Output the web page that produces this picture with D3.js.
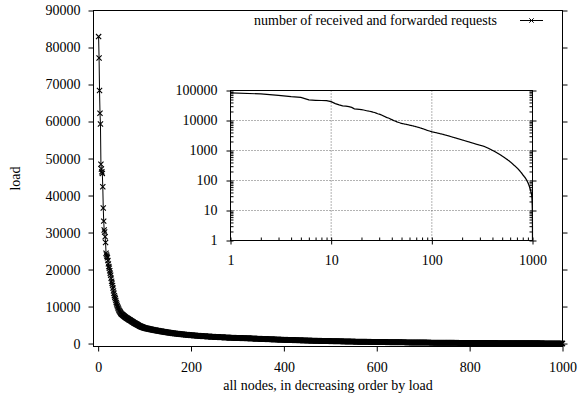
<!DOCTYPE html>
<html>
<head>
<meta charset="utf-8">
<script src="https://cdn.jsdelivr.net/npm/d3@7"></script>
<style>
  html, body { margin: 0; padding: 0; background: #fff; }
  svg { display: block; font-family: "Liberation Serif", "Times New Roman", serif; }
</style>
</head>
<body>
<svg id="chart" width="579" height="402"></svg>
<script>
// Labels
const seriesName = "number of received and forwarded requests";
const xTitle = "all nodes, in decreasing order by load";
const yTitle = "load";

// Tick values
const xTicks = [0, 200, 400, 600, 800, 1000];
const yTicks = [0, 10000, 20000, 30000, 40000, 50000, 60000, 70000, 80000, 90000];
const insetXTicks = [1, 10, 100, 1000];
const insetYTicks = [1, 10, 100, 1000, 10000, 100000];

// Load of each node, sorted in decreasing order (node rank = position + 1)
const load = [
  82950, 77180, 68370, 62240, 59310, 48460, 47150, 46420, 45980, 42390,
  36620, 33080, 30690, 30120, 28870, 27310, 24420, 23960, 23560, 23180,
  22410, 21530, 20790, 20340, 19680, 19020, 18470, 17640, 16810, 16290,
  15720, 14980, 14230, 13610, 12940, 12480, 12090, 11630, 11120, 10710,
  10290, 9920, 9610, 9330, 9010, 8790, 8610, 8380, 8190, 8010,
  7905, 7812, 7698, 7603, 7488, 7401, 7312, 7197, 7108, 7002,
  6921, 6838, 6762, 6679, 6601, 6518, 6443, 6358, 6281, 6199,
  6122, 6037, 5961, 5878, 5802, 5719, 5641, 5558, 5482, 5398,
  5331, 5258, 5192, 5119, 5051, 4978, 4912, 4839, 4771, 4698,
  4652, 4598, 4551, 4499, 4452, 4398, 4351, 4298, 4252, 4199,
  4171, 4146, 4117, 4091, 4062, 4036, 4007, 3981, 3952, 3926,
  3897, 3871, 3842, 3816, 3787, 3761, 3732, 3706, 3677, 3651,
  3627, 3606, 3582, 3561, 3537, 3516, 3492, 3471, 3447, 3426,
  3402, 3381, 3357, 3336, 3312, 3291, 3267, 3246, 3222, 3201,
  3178, 3161, 3137, 3119, 3102, 3078, 3061, 3043, 3018, 3001,
  2979, 2962, 2938, 2921, 2899, 2883, 2861, 2839, 2822, 2801,
  2786, 2770, 2756, 2741, 2724, 2711, 2695, 2681, 2664, 2650,
  2636, 2619, 2606, 2590, 2575, 2561, 2544, 2530, 2515, 2500,
  2488, 2474, 2463, 2450, 2437, 2425, 2412, 2400, 2387, 2374,
  2363, 2350, 2337, 2326, 2312, 2300, 2288, 2275, 2262, 2250,
  2240, 2231, 2220, 2210, 2199, 2190, 2181, 2170, 2160, 2151,
  2140, 2130, 2121, 2110, 2100, 2090, 2081, 2070, 2060, 2051,
  2040, 2030, 2019, 2010, 2000, 1993, 1984, 1975, 1968, 1961,
  1952, 1943, 1936, 1929, 1920, 1911, 1904, 1897, 1888, 1879,
  1872, 1865, 1856, 1847, 1840, 1833, 1824, 1815, 1808, 1800,
  1793, 1786, 1780, 1773, 1766, 1759, 1752, 1746, 1739, 1732,
  1725, 1718, 1712, 1705, 1698, 1691, 1684, 1678, 1671, 1664,
  1657, 1650, 1644, 1637, 1630, 1625, 1620, 1614, 1609, 1604,
  1599, 1594, 1589, 1583, 1578, 1573, 1568, 1563, 1557, 1552,
  1547, 1542, 1537, 1531, 1526, 1521, 1516, 1511, 1505, 1500,
  1497, 1492, 1487, 1484, 1481, 1476, 1471, 1468, 1465, 1460,
  1455, 1452, 1449, 1444, 1439, 1436, 1433, 1428, 1423, 1420,
  1417, 1412, 1407, 1404, 1400, 1394, 1389, 1383, 1378, 1372,
  1366, 1361, 1355, 1350, 1344, 1338, 1333, 1327, 1322, 1316,
  1310, 1305, 1299, 1294, 1288, 1282, 1277, 1271, 1266, 1260,
  1255, 1250, 1244, 1239, 1234, 1229, 1224, 1218, 1213, 1208,
  1203, 1198, 1192, 1187, 1182, 1177, 1172, 1166, 1161, 1156,
  1151, 1146, 1140, 1135, 1130, 1125, 1120, 1116, 1111, 1106,
  1101, 1096, 1092, 1087, 1082, 1077, 1072, 1068, 1063, 1058,
  1053, 1048, 1044, 1039, 1034, 1029, 1024, 1020, 1015, 1010,
  1006, 1001, 998, 994, 989, 986, 982, 977, 974, 970,
  965, 962, 958, 953, 950, 946, 941, 938, 934, 929,
  926, 922, 917, 914, 910, 906, 902, 898, 894, 890,
  886, 881, 878, 874, 870, 866, 862, 858, 853, 850,
  846, 842, 838, 834, 830, 826, 822, 818, 814, 810,
  807, 804, 800, 797, 794, 791, 788, 784, 781, 778,
  775, 772, 768, 765, 762, 759, 756, 752, 749, 746,
  743, 740, 736, 733, 730, 727, 724, 720, 717, 714,
  711, 708, 704, 701, 698, 695, 692, 688, 685, 682,
  679, 676, 672, 669, 666, 663, 660, 656, 653, 650,
  647, 645, 642, 640, 637, 634, 632, 629, 627, 624,
  621, 619, 616, 614, 611, 608, 606, 603, 601, 598,
  595, 593, 590, 588, 585, 582, 580, 577, 575, 572,
  569, 567, 564, 562, 559, 556, 554, 551, 549, 546,
  543, 541, 538, 536, 533, 530, 528, 525, 523, 520,
  518, 516, 515, 512, 510, 509, 506, 504, 503, 500,
  498, 497, 494, 492, 491, 488, 486, 485, 482, 480,
  478, 477, 474, 472, 471, 468, 466, 465, 462, 460,
  458, 457, 454, 452, 451, 448, 446, 445, 442, 440,
  438, 437, 434, 432, 431, 428, 426, 425, 422, 420,
  418, 416, 415, 413, 411, 409, 407, 406, 404, 402,
  400, 398, 397, 395, 393, 391, 389, 388, 386, 384,
  382, 380, 379, 377, 375, 373, 371, 370, 368, 366,
  364, 362, 361, 359, 357, 355, 353, 352, 350, 348,
  346, 344, 343, 341, 339, 337, 335, 334, 332, 330,
  329, 327, 326, 325, 323, 322, 321, 319, 318, 317,
  316, 314, 313, 312, 310, 309, 308, 306, 305, 304,
  303, 301, 300, 299, 297, 296, 295, 293, 292, 291,
  290, 288, 287, 286, 284, 283, 282, 280, 279, 278,
  277, 275, 274, 273, 271, 270, 269, 267, 266, 265,
  264, 263, 261, 260, 259, 258, 257, 255, 254, 253,
  252, 251, 249, 248, 247, 246, 245, 243, 242, 241,
  240, 239, 237, 236, 235, 234, 233, 231, 230, 229,
  228, 227, 225, 224, 223, 222, 221, 219, 218, 217,
  216, 215, 213, 212, 211, 210, 209, 207, 206, 205,
  204, 203, 203, 201, 200, 200, 198, 197, 196, 196,
  194, 193, 192, 192, 190, 189, 188, 188, 186, 185,
  184, 184, 182, 181, 180, 180, 178, 177, 176, 176,
  174, 173, 172, 172, 170, 169, 168, 168, 166, 165,
  164, 164, 162, 161, 160, 160, 158, 157, 156, 155,
  154, 154, 153, 152, 152, 151, 150, 150, 149, 148,
  147, 147, 146, 145, 145, 144, 143, 143, 142, 141,
  140, 140, 139, 138, 138, 137, 136, 136, 135, 134,
  133, 133, 132, 131, 131, 130, 129, 129, 128, 127,
  126, 126, 125, 124, 124, 123, 122, 122, 121, 120,
  119, 119, 118, 117, 117, 116, 115, 115, 114, 113,
  112, 112, 111, 110, 110, 109, 108, 108, 107, 106,
  105, 105, 104, 103, 103, 102, 101, 101, 100, 99,
  98, 98, 97, 96, 96, 95, 94, 94, 93, 92,
  91, 91, 90, 89, 89, 88, 87, 87, 86, 85,
  84, 84, 83, 82, 82, 81, 80, 80, 79, 78,
  77, 77, 76, 75, 75, 74, 73, 73, 72, 71,
  70, 70, 69, 68, 68, 67, 66, 66, 65, 64,
  63, 63, 62, 61, 61, 60, 59, 59, 58, 57,
  56, 56, 55, 54, 54, 53, 53, 52, 52, 52,
  51, 50, 50, 49, 48, 48, 47, 46, 46, 45,
  44, 44, 43, 43, 42, 42, 41, 41, 40, 40,
  39, 38, 38, 37, 36, 36, 35, 34, 34, 33,
  32, 31, 30, 29, 27, 26, 25, 23, 22, 20,
  18, 16, 15, 13, 12, 10, 8, 6, 3, 1
];

const nodes = load.map((v, i) => ({ rank: i + 1, value: v }));

const svg = d3.select("#chart");
const FONT = 14;
const FAMILY = "'Liberation Serif','Times New Roman',serif";

// ---- main plot ----
const box = { left: 93.5, right: 562.5, top: 10.5, bottom: 346.5 };
const x = d3.scaleLinear().domain([-10, 1000]).range([box.left, box.right]);
const y = d3.scaleLinear().domain([-800, 90000]).range([box.bottom, box.top]);

function styleAxis(g) {
  g.attr("font-family", null);
  g.select(".domain").remove();
  g.selectAll("line").attr("stroke", "#000").attr("stroke-width", 1);
  g.selectAll("text").attr("fill", "#000").style("font-size", FONT + "px")
    .style("font-family", FAMILY);
}

svg.append("g")
  .attr("transform", `translate(${box.left},0)`)
  .call(d3.axisLeft(y).tickValues(yTicks).tickSize(5).tickPadding(8).tickFormat(d3.format("d")))
  .call(styleAxis);

svg.append("g")
  .attr("transform", `translate(${box.right},0)`)
  .call(d3.axisRight(y).tickValues(yTicks).tickSize(5).tickFormat(""))
  .call(styleAxis);

svg.append("g")
  .attr("transform", `translate(0,${box.bottom})`)
  .call(d3.axisBottom(x).tickValues(xTicks).tickSize(5).tickPadding(10.5).tickFormat(d3.format("d")))
  .call(styleAxis);

svg.append("rect")
  .attr("x", box.left).attr("y", box.top)
  .attr("width", box.right - box.left).attr("height", box.bottom - box.top)
  .attr("fill", "none").attr("stroke", "#000").attr("stroke-width", 1);

// series line with cross markers
const line = d3.line().x(d => x(d.rank)).y(d => y(d.value));
svg.append("path")
  .datum(nodes)
  .attr("d", line)
  .attr("fill", "none").attr("stroke", "#000").attr("stroke-width", 1);

const cross = "M-2.6,-2.6L2.6,2.6M-2.6,2.6L2.6,-2.6";
svg.append("g")
  .selectAll("path")
  .data(nodes)
  .join("path")
  .attr("transform", d => `translate(${x(d.rank)},${y(d.value)})`)
  .attr("d", cross)
  .attr("fill", "none").attr("stroke", "#000").attr("stroke-width", 1.1);

// axis titles
svg.append("text")
  .attr("x", (box.left + box.right) / 2).attr("y", 390)
  .attr("text-anchor", "middle").style("font-size", FONT + "px").style("font-family", FAMILY)
  .text(xTitle);

svg.append("text")
  .attr("transform", `translate(15,${(box.top + box.bottom) / 2}) rotate(-90)`)
  .attr("text-anchor", "middle").attr("dy", "0.35em")
  .style("font-size", FONT + "px").style("font-family", FAMILY)
  .text(yTitle);

// legend
const legend = svg.append("g");
legend.append("text")
  .attr("x", 497).attr("y", 25)
  .attr("text-anchor", "end").style("font-size", FONT + "px").style("font-family", FAMILY)
  .text(seriesName);
legend.append("line")
  .attr("x1", 520).attr("x2", 543).attr("y1", 20.5).attr("y2", 20.5)
  .attr("stroke", "#000").attr("stroke-width", 1);
legend.append("path")
  .attr("transform", "translate(531.5,20.5)")
  .attr("d", "M-2.2,-2.2L2.2,2.2M-2.2,2.2L2.2,-2.2")
  .attr("fill", "none").attr("stroke", "#000").attr("stroke-width", 1);

// ---- inset: same data on log-log axes ----
const ib = { left: 230.5, right: 532.5, top: 90.5, bottom: 240.5 };
const xl = d3.scaleLog().domain([1, 1000]).range([ib.left, ib.right]);
const yl = d3.scaleLog().domain([1, 100000]).range([ib.bottom, ib.top]);

svg.append("rect")
  .attr("x", ib.left).attr("y", ib.top)
  .attr("width", ib.right - ib.left).attr("height", ib.bottom - ib.top)
  .attr("fill", "#fff");

const grid = svg.append("g")
  .attr("stroke", "#666").attr("stroke-width", 1).attr("stroke-dasharray", "1,2");
grid.selectAll("line.gx")
  .data(insetXTicks.slice(1, -1))
  .join("line").attr("class", "gx")
  .attr("x1", d => xl(d)).attr("x2", d => xl(d))
  .attr("y1", ib.top).attr("y2", ib.bottom);
grid.selectAll("line.gy")
  .data(insetYTicks.slice(1, -1))
  .join("line").attr("class", "gy")
  .attr("y1", d => yl(d)).attr("y2", d => yl(d))
  .attr("x1", ib.left).attr("x2", ib.right);

const fmt = d3.format("d");
// outward major ticks with labels
svg.append("g")
  .attr("transform", `translate(${ib.left},0)`)
  .call(d3.axisLeft(yl).tickValues(insetYTicks).tickSize(4).tickPadding(9).tickFormat(fmt))
  .call(styleAxis);
svg.append("g")
  .attr("transform", `translate(0,${ib.bottom})`)
  .call(d3.axisBottom(xl).tickValues(insetXTicks).tickSize(4).tickPadding(11).tickFormat(fmt))
  .call(styleAxis);
svg.append("g")
  .attr("transform", `translate(${ib.right},0)`)
  .call(d3.axisRight(yl).tickValues(insetYTicks).tickSize(4).tickFormat(""))
  .call(styleAxis);
// inward minor ticks
svg.append("g")
  .attr("transform", `translate(${ib.left},0)`)
  .call(d3.axisRight(yl).tickValues(yl.ticks()).tickSize(3).tickFormat(""))
  .call(styleAxis);
svg.append("g")
  .attr("transform", `translate(${ib.right},0)`)
  .call(d3.axisLeft(yl).tickValues(yl.ticks()).tickSize(3).tickFormat(""))
  .call(styleAxis);
svg.append("g")
  .attr("transform", `translate(0,${ib.bottom})`)
  .call(d3.axisTop(xl).tickValues(xl.ticks()).tickSize(3).tickFormat(""))
  .call(styleAxis);

svg.append("rect")
  .attr("x", ib.left).attr("y", ib.top)
  .attr("width", ib.right - ib.left).attr("height", ib.bottom - ib.top)
  .attr("fill", "none").attr("stroke", "#000").attr("stroke-width", 1);

const lineLog = d3.line().x(d => xl(d.rank)).y(d => yl(Math.max(d.value, 1)));
svg.append("path")
  .datum(nodes)
  .attr("d", lineLog)
  .attr("fill", "none").attr("stroke", "#000").attr("stroke-width", 1.2);
</script>
</body>
</html>
